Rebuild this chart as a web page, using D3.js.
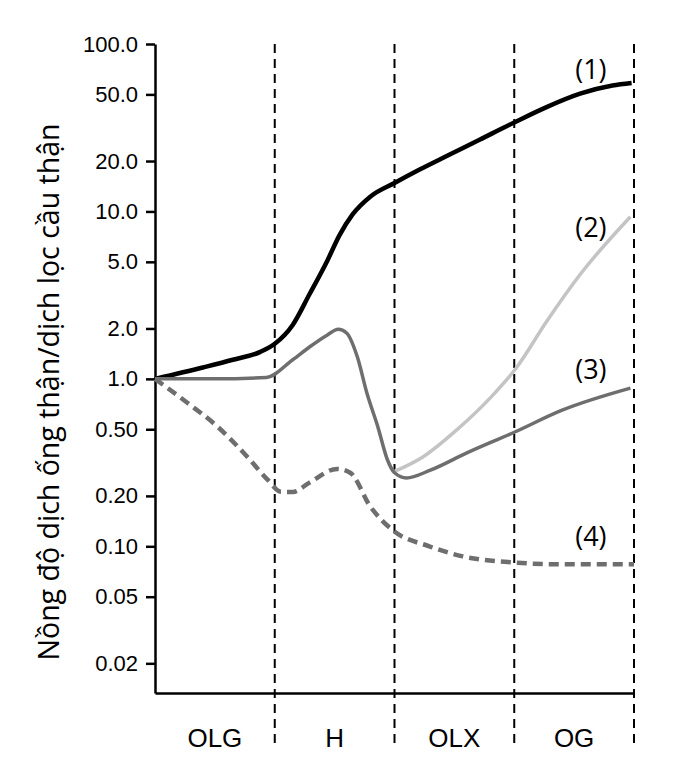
<!DOCTYPE html>
<html lang="vi">
<head>
<meta charset="utf-8">
<script src="https://d3js.org/d3.v7.min.js"></script>
<style>
  body { margin: 0; background: #fff; }
  svg { display: block; }
</style>
</head>
<body>
<script>
// phases along the nephron
const phases = ["OLG", "H", "OLX", "OG"];

// y-axis ticks (log scale)
const yTicks = [100, 50, 20, 10, 5, 2, 1, 0.5, 0.2, 0.1, 0.05, 0.02];
const yTickLabels = ["100.0", "50.0", "20.0", "10.0", "5.0", "2.0", "1.0", "0.50", "0.20", "0.10", "0.05", "0.02"];

// x = position in segment units (0..4), v = concentration ratio
const line1 = [
  {x: 0, v: 1.0}, {x: 0.4, v: 1.17}, {x: 0.65, v: 1.3}, {x: 0.88, v: 1.45},
  {x: 1.0, v: 1.62}, {x: 1.15, v: 2.1}, {x: 1.29, v: 3.2}, {x: 1.44, v: 5.1},
  {x: 1.54, v: 7.2}, {x: 1.65, v: 9.6}, {x: 1.8, v: 12.3}, {x: 2.0, v: 14.8},
  {x: 2.21, v: 17.8}, {x: 2.44, v: 21.5}, {x: 2.71, v: 26.8}, {x: 3.0, v: 34},
  {x: 3.27, v: 42}, {x: 3.55, v: 50.5}, {x: 3.82, v: 56.5}, {x: 3.98, v: 58.5}
];
const line2 = [
  {x: 2.0, v: 0.28}, {x: 2.24, v: 0.343}, {x: 2.52, v: 0.496}, {x: 2.8, v: 0.77},
  {x: 3.02, v: 1.17}, {x: 3.27, v: 2.2}, {x: 3.55, v: 4.2}, {x: 3.97, v: 9.3}
];
const line3 = [
  {x: 0, v: 1.0}, {x: 0.5, v: 1.0}, {x: 0.93, v: 1.02}, {x: 1.15, v: 1.3},
  {x: 1.29, v: 1.55}, {x: 1.44, v: 1.83}, {x: 1.53, v: 1.98}, {x: 1.6, v: 1.88},
  {x: 1.69, v: 1.35}, {x: 1.77, v: 0.82}, {x: 1.86, v: 0.52}, {x: 1.94, v: 0.33},
  {x: 2.0, v: 0.275}, {x: 2.1, v: 0.256}, {x: 2.3, v: 0.285}, {x: 2.6, v: 0.36},
  {x: 3.0, v: 0.48}, {x: 3.4, v: 0.65}, {x: 3.97, v: 0.88}
];
const line4 = [
  {x: 0, v: 1.0}, {x: 0.27, v: 0.72}, {x: 0.52, v: 0.52}, {x: 0.77, v: 0.343},
  {x: 0.94, v: 0.25}, {x: 1.05, v: 0.212}, {x: 1.15, v: 0.211}, {x: 1.29, v: 0.24},
  {x: 1.52, v: 0.29}, {x: 1.63, v: 0.275}, {x: 1.8, v: 0.172}, {x: 1.99, v: 0.124},
  {x: 2.29, v: 0.1}, {x: 2.57, v: 0.087}, {x: 3.0, v: 0.08}, {x: 3.41, v: 0.078},
  {x: 4.0, v: 0.078}
];

// label anchors (x in segment units, v at text baseline)
const labelX = [3.64, 3.64, 3.64, 3.64];
const labelV = [61.8, 7.0, 1.0, 0.1];

const series = [
  {name: "(1)", data: line1, color: "#000000", width: 4.5, dash: null},
  {name: "(2)", data: line2, color: "#c4c4c4", width: 3.5, dash: null},
  {name: "(3)", data: line3, color: "#6e6e6e", width: 3.5, dash: null},
  {name: "(4)", data: line4, color: "#6e6e6e", width: 4.5, dash: "10,6"}
];

const W = 692, H = 777;
const margin = {top: 44, right: 58, bottom: 84, left: 155};
const width = W - margin.left - margin.right;
const height = H - margin.top - margin.bottom;

const svg = d3.select("body").append("svg")
  .attr("width", W)
  .attr("height", H);

const g = svg.append("g")
  .attr("transform", "translate(" + margin.left + "," + margin.top + ")");

const x = d3.scaleLinear().domain([0, 4]).range([0, width]);
const y = d3.scaleLog().domain([0.0133, 100]).range([height, 0]);

// dashed phase boundaries
g.selectAll(".sep")
  .data([1, 2, 3, 4])
  .enter().append("line")
  .attr("class", "sep")
  .attr("x1", d => x(d)).attr("x2", d => x(d))
  .attr("y1", 0).attr("y2", height + 52)
  .attr("stroke", "#000")
  .attr("stroke-width", 2)
  .attr("stroke-dasharray", "9,6");

// y axis
const yAxis = g.append("g")
  .call(d3.axisLeft(y)
    .tickValues(yTicks)
    .tickFormat((d, i) => yTickLabels[i])
    .tickSize(9)
    .tickPadding(8)
    .tickSizeOuter(0));
yAxis.select(".domain").attr("stroke-width", 2.5);
yAxis.selectAll(".tick line").attr("stroke-width", 2.5);
yAxis.selectAll(".tick text")
  .attr("font-family", "Liberation Sans, Arial, sans-serif")
  .attr("font-size", 22)
  .attr("fill", "#000");

// x axis (bottom line only, phase labels in between)
const xAxis = g.append("g")
  .attr("transform", "translate(0," + height + ")")
  .call(d3.axisBottom(x).tickValues([]).tickSizeOuter(0));
xAxis.select(".domain").attr("stroke-width", 2.5);

g.selectAll(".phase")
  .data(phases)
  .enter().append("text")
  .attr("class", "phase")
  .attr("x", (d, i) => x(i + 0.5))
  .attr("y", height + 54)
  .attr("text-anchor", "middle")
  .attr("font-family", "Liberation Sans, Arial, sans-serif")
  .attr("font-size", 26)
  .text(d => d);

// curves
const line = d3.line()
  .x(d => x(d.x))
  .y(d => y(d.v))
  .curve(d3.curveMonotoneX);

g.selectAll(".curve")
  .data(series)
  .enter().append("path")
  .attr("class", "curve")
  .attr("d", d => line(d.data))
  .attr("fill", "none")
  .attr("stroke", d => d.color)
  .attr("stroke-width", d => d.width)
  .attr("stroke-dasharray", d => d.dash)
  .attr("stroke-linecap", "butt");

// series labels
g.selectAll(".lbl")
  .data(series)
  .enter().append("text")
  .attr("class", "lbl")
  .attr("x", (d, i) => x(labelX[i]))
  .attr("y", (d, i) => y(labelV[i]))
  .attr("text-anchor", "middle")
  .attr("font-family", "Open Sans, sans-serif")
  .attr("font-size", 27)
  .text(d => d.name);

// y axis title
svg.append("text")
  .attr("transform", "translate(59," + 392 + ") rotate(-90)")
  .attr("text-anchor", "middle")
  .attr("font-family", "Open Sans, sans-serif")
  .attr("font-size", 28.5)
  .text("Nồng độ dịch ống thận/dịch lọc cầu thận");
</script>
</body>
</html>
